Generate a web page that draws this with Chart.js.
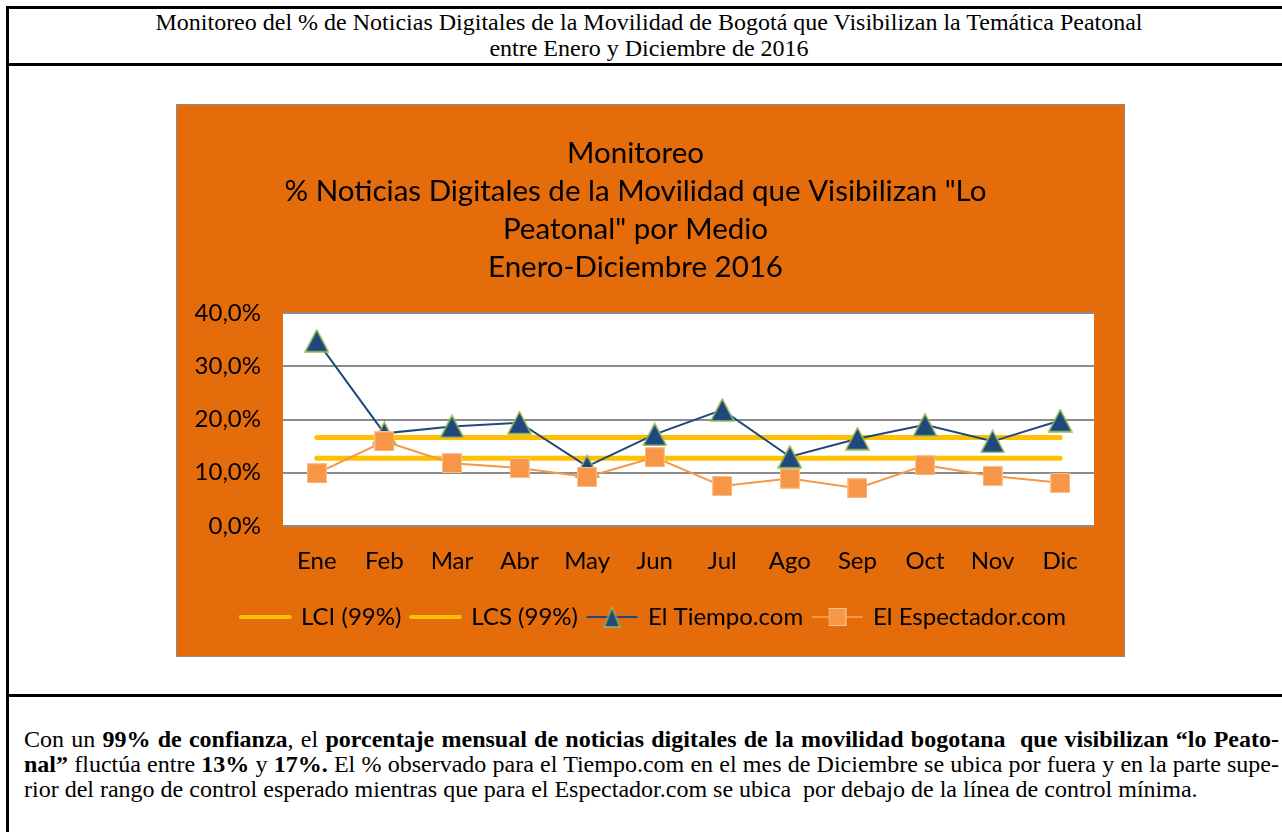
<!DOCTYPE html>
<html lang="es">
<head>
<meta charset="utf-8">
<title>Monitoreo Peatonal 2016</title>
<script src="https://cdn.jsdelivr.net/npm/chart.js@4.4.1/dist/chart.umd.min.js"></script>
<style>
  body { margin: 0; width: 1282px; height: 832px; overflow: hidden; position: relative; background: #fff;
         font-family: "Liberation Serif", "Times New Roman", serif; color: #000; }
  .marco { position: absolute; left: 6px; top: 6px; width: 1330px; height: 900px;
           border-left: 3px solid #000; border-top: 3px solid #000; }
  .raya { position: absolute; left: 6px; width: 1330px; height: 3px; background: #000; }
  .cabecera { position: absolute; left: 9px; width: 1280px; top: 9px; text-align: center;
              font-size: 24px; line-height: 26px; }
  .grafico { position: absolute; left: 176px; top: 104px; width: 947px; height: 551px;
             border: 1px solid #8c8c8c; }
  .texto { position: absolute; left: 24px; top: 727px; width: 1255px; font-size: 24px; line-height: 25px; }
  .texto div { white-space: nowrap; }
  .just { text-align: justify; text-align-last: justify; }
</style>
</head>
<body>
<div class="marco"></div>
<div class="raya" style="top:63px"></div>
<div class="raya" style="top:694px"></div>
<div class="cabecera">Monitoreo del % de Noticias Digitales de la Movilidad de Bogotá que Visibilizan la Temática Peatonal<br>entre Enero y Diciembre de 2016</div>
<div class="grafico"><canvas id="chart" width="947" height="551"></canvas></div>
<div class="texto">
  <div class="just">Con un <b>99% de confianza</b>, el <b>porcentaje mensual de noticias digitales de la movilidad bogotana&nbsp; que visibilizan “lo Peato-</b></div>
  <div class="just"><b>nal”</b> fluctúa entre <b>13%</b> y <b>17%.</b> El % observado para el Tiempo.com en el mes de Diciembre se ubica por fuera y en la parte supe-</div>
  <div>rior del rango de control esperado mientras que para el Espectador.com se ubica&nbsp; por debajo de la línea de control mínima.</div>
</div>
<script>
const meses = ['Ene', 'Feb', 'Mar', 'Abr', 'May', 'Jun', 'Jul', 'Ago', 'Sep', 'Oct', 'Nov', 'Dic'];
const elTiempo = [34.8, 17.4, 18.7, 19.4, 11.2, 17.2, 21.8, 13.0, 16.4, 19.0, 15.9, 19.8];
const elEspectador = [9.9, 15.9, 11.8, 10.9, 9.2, 12.9, 7.5, 8.9, 7.1, 11.4, 9.4, 8.1];
const lci = [12.7, 12.7, 12.7, 12.7, 12.7, 12.7, 12.7, 12.7, 12.7, 12.7, 12.7, 12.7];
const lcs = [16.6, 16.6, 16.6, 16.6, 16.6, 16.6, 16.6, 16.6, 16.6, 16.6, 16.6, 16.6];
const ticksY = ['0,0%', '10,0%', '20,0%', '30,0%', '40,0%'];
const titulo = ['Monitoreo', '% Noticias Digitales de la Movilidad que Visibilizan "Lo', 'Peatonal" por Medio', 'Enero-Diciembre 2016'];

const AZUL = '#1F497D', VERDE = '#9BBB59', NARANJA = '#F79646', AMARILLO = '#FFC000';
const fuente = 'Lato';

// markers as small canvases so they sit centred on the point like Excel's
function triangulo(w, h) {
    const c = document.createElement('canvas');
    c.width = w; c.height = h;
    const g = c.getContext('2d');
    g.beginPath();
    g.moveTo(w / 2, 1); g.lineTo(w - 1, h - 1); g.lineTo(1, h - 1); g.closePath();
    g.fillStyle = AZUL; g.fill();
    g.lineWidth = 1.5; g.strokeStyle = VERDE; g.stroke();
    return c;
}
function cuadro(s) {
    const c = document.createElement('canvas');
    c.width = s; c.height = s;
    const g = c.getContext('2d');
    g.fillStyle = NARANJA; g.fillRect(0, 0, s, s);
    g.strokeStyle = '#FAC090'; g.lineWidth = 1; g.strokeRect(0.5, 0.5, s - 1, s - 1);
    return c;
}
function muestra(color, ancho, marca) {
    const c = document.createElement('canvas');
    c.width = 53; c.height = 24;
    const g = c.getContext('2d');
    g.strokeStyle = color; g.lineWidth = ancho; g.lineCap = ancho > 3 ? 'round' : 'butt';
    g.beginPath(); g.moveTo(ancho > 3 ? 2 : 1, 12); g.lineTo(ancho > 3 ? 51 : 52, 12); g.stroke();
    if (marca) g.drawImage(marca, (53 - marca.width) / 2, (24 - marca.height) / 2);
    return c;
}

const muestras = [
    muestra(AMARILLO, 4),
    muestra(AMARILLO, 4),
    muestra(AZUL, 2, triangulo(18, 22)),
    muestra(NARANJA, 2, cuadro(18))
];

const fondo = {
    id: 'fondo',
    beforeDraw(chart) {
        const { ctx, chartArea: a, width, height } = chart;
        ctx.save();
        ctx.fillStyle = '#E46C0A';
        ctx.fillRect(0, 0, width, height);
        ctx.fillStyle = '#ffffff';
        ctx.fillRect(a.left, a.top, a.right - a.left, a.bottom - a.top);
        ctx.restore();
    },
    afterLayout(chart) {
        // Excel places the legend a bit right of the title centre
        chart.legend.left += 18;
        chart.legend.right += 18;
    }
};

const ctx = document.getElementById('chart').getContext('2d');
new Chart(ctx, {
    type: 'line',
    data: {
        labels: meses,
        datasets: [
            { label: 'LCI (99%)', data: lci, borderColor: AMARILLO, borderWidth: 5, borderCapStyle: 'round', pointRadius: 0, order: 4 },
            { label: 'LCS (99%)', data: lcs, borderColor: AMARILLO, borderWidth: 5, borderCapStyle: 'round', pointRadius: 0, order: 3 },
            { label: 'El Tiempo.com', data: elTiempo, borderColor: AZUL, borderWidth: 2, pointStyle: triangulo(25, 24), pointRadius: 5, order: 2 },
            { label: 'El Espectador.com', data: elEspectador, borderColor: NARANJA, borderWidth: 2, pointStyle: cuadro(20), pointRadius: 5, order: 1 }
        ]
    },
    options: {
        responsive: false,
        animation: false,
        layout: { padding: { left: 0, right: 30, top: 0, bottom: 17 } },
        scales: {
            x: {
                offset: true,
                grid: { display: false, drawTicks: false },
                border: { display: false },
                ticks: { color: '#000', padding: 21, font: { family: fuente, size: 24 } },
                afterFit: (s) => { s.height = 69; }
            },
            y: {
                min: 0,
                max: 40,
                grid: { color: '#8c8c8c', lineWidth: 2, drawTicks: false },
                border: { display: false },
                ticks: {
                    stepSize: 10,
                    padding: 22,
                    color: '#000',
                    font: { family: fuente, size: 24 },
                    callback: (v) => ticksY[v / 10]
                },
                afterFit: (s) => { s.width = 106; }
            }
        },
        plugins: {
            title: {
                display: true,
                text: titulo,
                color: '#000',
                font: { family: fuente, size: 29.5, weight: 'normal', lineHeight: 38 / 29.5 },
                padding: { top: 29, bottom: 27 }
            },
            legend: {
                position: 'bottom',
                labels: {
                    color: '#000',
                    font: { family: fuente, size: 24 },
                    usePointStyle: true,
                    pointStyleWidth: 48,
                    padding: 10,
                    sort: (a, b) => a.datasetIndex - b.datasetIndex,
                    generateLabels: (chart) => Chart.defaults.plugins.legend.labels.generateLabels(chart)
                        .map(l => Object.assign(l, { pointStyle: muestras[l.datasetIndex] }))
                }
            },
            tooltip: { enabled: false }
        }
    },
    plugins: [fondo]
});
</script>
</body>
</html>
